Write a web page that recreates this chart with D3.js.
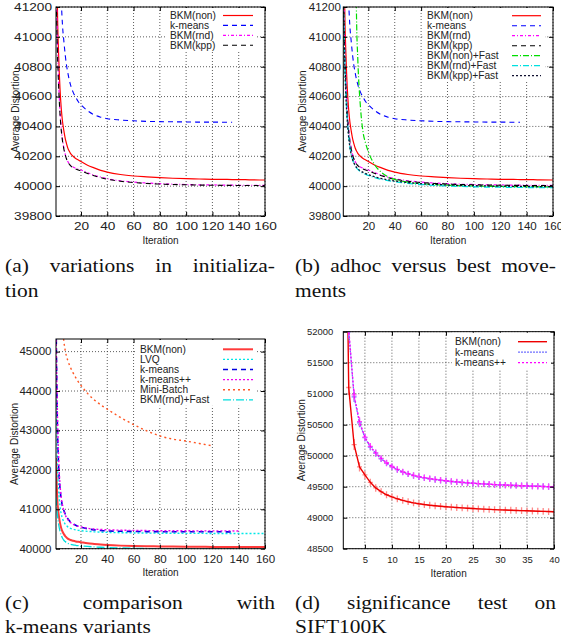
<!DOCTYPE html>
<html>
<head>
<meta charset="utf-8">
<script src="https://cdn.jsdelivr.net/npm/d3@7"></script>
<style>
body { margin: 0; background: #fff; }
svg { display: block; }
.grid { stroke: #333; stroke-width: 0.8; stroke-dasharray: 1,2; }
.lab { font-family: "Liberation Sans", Arial, sans-serif; fill: #222; }
.cap { font-family: "Liberation Serif", "Times New Roman", serif; font-size: 19.5px; fill: #111; }
</style>
</head>
<body>
<svg id="chart" width="561" height="641"></svg>
<script>
// iterations sampled for the 160-iteration plots
const iter = [1,2,3,4,5,6,7,8,9,10,11,12,14,16,18,20,25,30,35,40,50,60,70,80,90,100,110,120,130,135,140,145,150,160]

const bkmNon = [42300,41250,40880,40660,40520,40430,40370,40320,40285,40255,40235,40220,40200,40185,40175,40165,40140,40122,40106,40094,40078,40068,40062,40057,40053,40050,40048,40046,40045,40044,40043,40043,40042,40041]
const kmeans = [46000,43300,42100,41550,41250,41070,40970,40880,40810,40760,40715,40680,40630,40595,40565,40545,40505,40478,40462,40452,40443,40438,40434,40432,40431,40430,40429,40429,40428,40428,null,null,null,null]
const bkmRnd = [41450,40980,40700,40510,40390,40310,40255,40215,40185,40165,40150,40140,40128,40120,40113,40108,40090,40073,40060,40050,40036,40027,40021,40017,40013,40011,40009,40008,40007,40007,40006,40006,40006,40005]
const bkmKpp = [41350,40930,40670,40490,40375,40300,40248,40210,40182,40162,40148,40137,40124,40115,40108,40102,40085,40070,40057,40046,40033,40024,40018,40014,40011,40009,40007,40006,40005,40005,40004,40004,40004,40003]
const bkmNonFast = [null,null,null,null,null,null,null,null,null,43000,41150,40850,40530,40360,40285,40230,40140,40092,40062,40045,40026,40016,40010,40006,40003,40001,39999,39998,39997,39997,39996,39996,39995,39994]
const bkmRndFast = [41300,40880,40620,40450,40340,40265,40215,40180,40155,40137,40123,40112,40097,40087,40079,40072,40057,40046,40037,40030,40019,40011,40005,40001,39998,39996,39994,39993,39992,39992,39991,39991,39990,39990]
const bkmKppFast = [41250,40850,40600,40440,40335,40262,40213,40180,40156,40139,40126,40116,40102,40092,40084,40077,40062,40051,40042,40035,40024,40017,40012,40008,40005,40003,40001,40000,39999,39998,39998,39997,39997,39996]
const lvq = [44500,42300,41500,41100,40880,40760,40680,40625,40585,40555,40535,40518,40495,40478,40466,40457,40440,40428,40420,40414,40406,40400,40396,40393,40391,40389,40388,40387,40386,40386,40385,40385,40385,40384]
const kmeansPP = [45600,43600,42300,41650,41300,41100,40960,40860,40790,40740,40700,40665,40620,40590,40568,40552,40520,40500,40488,40480,40470,40464,40460,40457,40455,40454,40453,40452,40451,40451,40450,null,null,null]
const miniBatch = [49000,48000,47200,46600,46100,45600,45250,45030,44880,44770,44680,44600,44460,44340,44230,44140,43940,43780,43650,43540,43330,43150,42990,42860,42780,42730,42670,42610,null,null,null,null,null,null]

// SIFT100K significance test, iterations 1..40
const dIter = [1,2,3,4,5,6,7,8,9,10,11,12,13,14,15,16,17,18,19,20,21,22,23,24,25,26,27,28,29,30,31,32,33,34,35,36,37,38,39,40]
const dBkmNon = [58000,51100,50180,49820,49690,49570,49480,49420,49370,49335,49305,49280,49258,49240,49225,49212,49201,49192,49184,49177,49170,49164,49158,49153,49148,49143,49139,49135,49131,49127,49123,49120,49117,49114,49111,49108,49105,49102,49099,49096]
const dKmeans = [56000,52000,50950,50530,50290,50140,50040,49950,49880,49820,49775,49735,49705,49680,49660,49643,49628,49615,49603,49593,49584,49576,49568,49561,49555,49549,49544,49539,49534,49530,49526,49522,49519,49516,49513,49510,49507,49504,49501,49498]
const dKmeansPP = [56500,52050,50980,50550,50300,50150,50045,49958,49886,49826,49780,49740,49709,49684,49663,49646,49631,49617,49606,49596,49586,49578,49570,49563,49557,49551,49545,49540,49535,49531,49527,49523,49519,49515,49512,49509,49506,49503,49500,49497]
const dErrNon = [200,120,90,75,65,60,60,55,55,55,55,55,55,55,55,55,55,55,55,55,55,55,55,55,55,55,55,55,55,55,55,55,55,55,55,55,55,55,55,55]
const dErrKm = [200,110,85,70,60,55,55,50,50,50,50,50,50,50,50,50,50,50,50,50,50,50,50,50,50,50,50,50,50,50,50,50,50,50,50,50,50,50,50,50]

// ticks
const xTicks160 = [20,40,60,80,100,120,140,160]
const yTicksAB = [39800,40000,40200,40400,40600,40800,41000,41200]
const yTicksC = [40000,41000,42000,43000,44000,45000]
const xTicksD = [5,10,15,20,25,30,35,40]
const yTicksD = [48500,49000,49500,50000,50500,51000,51500,52000]

const capA = [['(a)', 'variations', 'in', 'initializa-'], ['tion']]
const capB = [['(b)', 'adhoc', 'versus', 'best', 'move-'], ['ments']]
const capC = [['(c)', 'comparison', 'with'], ['k-means variants']]
const capD = [['(d)', 'significance', 'test', 'on'], ['SIFT100K']]

const svg = d3.select('#chart')

const panels = [
    {
        id: 'a', x0: 56, x1: 265, y0: 7, y1: 216, xDom: [1, 160], yDom: [39800, 41200],
        xTicks: xTicks160, yTicks: yTicksAB, xs: iter, fs: 10.5, sx: 1.3, ypad: 4, xpad: 6.5,
        ylabX: 15, xlabY: 244, curve: d3.curveMonotoneX,
        legend: {x: 170, y: 15.5, dy: 9.9, lx0: 223, lx1: 253},
        series: [
            {name: 'BKM(non)', y: bkmNon, color: '#ff0000', dash: null, w: 1.2},
            {name: 'k-means', y: kmeans, color: '#0000ff', dash: '5,4', w: 1.1},
            {name: 'BKM(rnd)', y: bkmRnd, color: '#ff00ff', dash: '3,2,1,2', w: 1.2},
            {name: 'BKM(kpp)', y: bkmKpp, color: '#000000', dash: '5,4', w: 1.1}
        ]
    },
    {
        id: 'b', x0: 343.3, x1: 553, y0: 7, y1: 216, xDom: [1, 160], yDom: [39800, 41200],
        xTicks: xTicks160, yTicks: yTicksAB, xs: iter, fs: 10.5, sx: 1.1, ypad: 2.5, xpad: 6.5,
        ylabX: 302.5, xlabY: 244, curve: d3.curveMonotoneX,
        legend: {x: 427, y: 15.7, dy: 10, lx0: 512, lx1: 541},
        series: [
            {name: 'BKM(non)', y: bkmNon, color: '#ff0000', dash: null, w: 1.2},
            {name: 'k-means', y: kmeans, color: '#0000ff', dash: '5,4', w: 1.1},
            {name: 'BKM(rnd)', y: bkmRnd, color: '#ff00ff', dash: '3,2,1,2', w: 1.2},
            {name: 'BKM(kpp)', y: bkmKpp, color: '#000000', dash: '5,4', w: 1.1},
            {name: 'BKM(non)+Fast', y: bkmNonFast, color: '#00dd00', dash: '6,2,1,2', w: 1.2},
            {name: 'BKM(rnd)+Fast', y: bkmRndFast, color: '#00e0e0', dash: '6,2,1,2', w: 1.3},
            {name: 'BKM(kpp)+Fast', y: bkmKppFast, color: '#101030', dash: '2,2', w: 1.3}
        ]
    },
    {
        id: 'c', x0: 56, x1: 265, y0: 339, y1: 548.7, xDom: [1, 160], yDom: [40000, 45320],
        xTicks: xTicks160, yTicks: yTicksC, xs: iter, fs: 10.5, sx: 1.1, ypad: 4.5, xpad: 7,
        ylabX: 14, xlabY: 576, curve: d3.curveMonotoneX,
        legend: {x: 140, y: 349.3, dy: 10.1, lx0: 223, lx1: 253},
        series: [
            {name: 'BKM(non)', y: bkmNon, color: '#ff3a3a', dash: null, w: 2},
            {name: 'LVQ', y: lvq, color: '#00e8e8', dash: '2,2', w: 1.4},
            {name: 'k-means', y: kmeans, color: '#0000e0', dash: '5,4', w: 1.6},
            {name: 'k-means++', y: kmeansPP, color: '#ee00ee', dash: '2,2', w: 1.4},
            {name: 'Mini-Batch', y: miniBatch, color: '#ff5522', dash: '2,3', w: 1.4},
            {name: 'BKM(rnd)+Fast', y: bkmRndFast, color: '#00dede', dash: '8,2,1,2', w: 1.3}
        ]
    },
    {
        id: 'd', x0: 343.3, x1: 554, y0: 331.7, y1: 548.7, xDom: [1, 40], yDom: [48500, 52000],
        xTicks: xTicksD, yTicks: yTicksD, xs: dIter, fs: 9, sx: 1.05, ypad: 10, xpad: 8,
        ylabX: 301.7, xlabY: 577, curve: d3.curveLinear,
        legend: {x: 455, y: 341.7, dy: 10.5, lx0: 518, lx1: 547},
        series: [
            {name: 'BKM(non)', y: dBkmNon, err: dErrNon, color: '#ee0000', errColor: '#ff8888', dash: null, w: 1.4},
            {name: 'k-means', y: dKmeans, err: dErrKm, color: '#7070ff', errColor: '#8080ff', dash: '2,1', w: 1.3},
            {name: 'k-means++', y: dKmeansPP, err: dErrKm, color: '#ff00ff', errColor: '#ff40ff', dash: '2,2', w: 1.3}
        ]
    }
]

function drawPanel(p) {
    const g = svg.append('g')
    const x = d3.scaleLinear().domain(p.xDom).range([p.x0, p.x1])
    const y = d3.scaleLinear().domain(p.yDom).range([p.y1, p.y0])

    //dotted grid
    g.append('g').selectAll('line').data(p.xTicks).join('line')
        .attr('class', 'grid')
        .attr('x1', d => x(d)).attr('x2', d => x(d))
        .attr('y1', p.y0).attr('y2', p.y1)
    g.append('g').selectAll('line').data(p.yTicks).join('line')
        .attr('class', 'grid')
        .attr('x1', p.x0).attr('x2', p.x1)
        .attr('y1', d => y(d)).attr('y2', d => y(d))

    svg.append('clipPath').attr('id', 'clip-' + p.id)
        .append('rect')
        .attr('x', p.x0).attr('y', p.y0)
        .attr('width', p.x1 - p.x0).attr('height', p.y1 - p.y0)
    const curves = g.append('g').attr('clip-path', `url(#clip-${p.id})`)

    const line = d3.line()
        .defined(d => d[1] != null)
        .x(d => x(d[0]))
        .y(d => y(d[1]))
        .curve(p.curve)

    p.series.forEach(s => {
        const pts = p.xs.map((xi, i) => [xi, s.y[i], s.err ? s.err[i] : 0])
        if (s.err) {
            // error bars with plus markers
            const eb = curves.append('g').attr('stroke', s.errColor).attr('stroke-width', 1.3)
            eb.selectAll('.eb').data(pts).join('line')
                .attr('x1', d => x(d[0])).attr('x2', d => x(d[0]))
                .attr('y1', d => y(d[1] - d[2])).attr('y2', d => y(d[1] + d[2]))
            eb.selectAll('.pm').data(pts).join('line')
                .attr('x1', d => x(d[0]) - 2.5).attr('x2', d => x(d[0]) + 2.5)
                .attr('y1', d => y(d[1])).attr('y2', d => y(d[1]))
        }
        curves.append('path')
            .attr('d', line(pts))
            .attr('fill', 'none')
            .attr('stroke', s.color)
            .attr('stroke-width', s.w)
            .attr('stroke-dasharray', s.dash)
    })

    g.append('rect')
        .attr('x', p.x0).attr('y', p.y0)
        .attr('width', p.x1 - p.x0).attr('height', p.y1 - p.y0)
        .attr('fill', 'none').attr('stroke', '#000').attr('stroke-width', 1)

    //inward ticks on every side
    const axB = d3.axisBottom(x).tickValues(p.xTicks).tickSizeInner(-4).tickSizeOuter(0).tickPadding(p.xpad)
    const axT = d3.axisTop(x).tickValues(p.xTicks).tickSizeInner(-4).tickSizeOuter(0).tickFormat('')
    const axL = d3.axisLeft(y).tickValues(p.yTicks).tickSizeInner(-4).tickSizeOuter(0).tickFormat(d3.format('d'))
    const axR = d3.axisRight(y).tickValues(p.yTicks).tickSizeInner(-4).tickSizeOuter(0).tickFormat('')

    const gb = g.append('g').attr('transform', `translate(0,${p.y1})`).call(axB)
    const gt = g.append('g').attr('transform', `translate(0,${p.y0})`).call(axT)
    const gl = g.append('g').attr('transform', `translate(${p.x0},0)`).call(axL)
    const gr = g.append('g').attr('transform', `translate(${p.x1},0)`).call(axR)
    ;[gb, gt, gl, gr].forEach(a => a.select('.domain').remove())

    gb.selectAll('text')
        .attr('class', 'lab')
        .style('font-size', p.fs + 'px')
        .attr('transform', `scale(${p.sx},1)`)
    gl.selectAll('text')
        .attr('class', 'lab')
        .style('font-size', p.fs + 'px')
        .attr('x', null)
        .attr('transform', `translate(${-p.ypad},0) scale(${p.sx},1)`)
    g.selectAll('.tick line').attr('stroke', '#000')

    g.append('text').attr('class', 'lab')
        .attr('text-anchor', 'middle')
        .style('font-size', '10px')
        .attr('x', (p.x0 + p.x1) / 2).attr('y', p.xlabY)
        .text('Iteration')
    g.append('text').attr('class', 'lab')
        .attr('text-anchor', 'middle')
        .style('font-size', '10px')
        .attr('dy', '0.35em')
        .attr('transform', `translate(${p.ylabX},${(p.y0 + p.y1) / 2}) rotate(-90)`)
        .text('Average Distortion')

    // key with opaque box
    const L = p.legend
    const n = p.series.length
    g.append('rect')
        .attr('x', L.x - 3).attr('y', p.y0 + 1)
        .attr('width', L.lx1 - L.x + 7)
        .attr('height', L.y + (n - 1) * L.dy + L.dy / 2 + 1 - p.y0 - 1)
        .attr('fill', '#fff')
    const key = g.append('g').selectAll('g').data(p.series).join('g')
        .attr('transform', (d, i) => `translate(0,${L.y + i * L.dy})`)
    key.append('text').attr('class', 'lab')
        .style('font-size', '10.2px')
        .attr('x', L.x).attr('dy', '0.35em')
        .text(d => d.name)
    key.append('line')
        .attr('x1', L.lx0).attr('x2', L.lx1)
        .attr('stroke', d => d.color)
        .attr('stroke-width', d => d.w)
        .attr('stroke-dasharray', d => d.dash)
}

panels.forEach(drawPanel)

const capSx = 1.1

function caption(lines, xl, xr, yb, lh) {
    //first line justified, second line flush left
    const words = lines[0].map(w => svg.append('text').attr('class', 'cap').text(w))
    const widths = words.map(t => t.node().getComputedTextLength() * capSx)
    const gap = (xr - xl - d3.sum(widths)) / (words.length - 1)
    let cx = xl
    words.forEach((t, i) => {
        t.attr('transform', `translate(${cx},${yb}) scale(${capSx},1)`)
        cx += widths[i] + gap
    })
    svg.append('text').attr('class', 'cap')
        .attr('transform', `translate(${xl},${yb + lh}) scale(${capSx},1)`)
        .text(lines[1][0])
}

caption(capA, 5, 275, 272, 25)
caption(capB, 295, 556, 272, 25)
caption(capC, 5, 275, 609, 24)
caption(capD, 295, 556, 609, 24)
</script>
</body>
</html>
